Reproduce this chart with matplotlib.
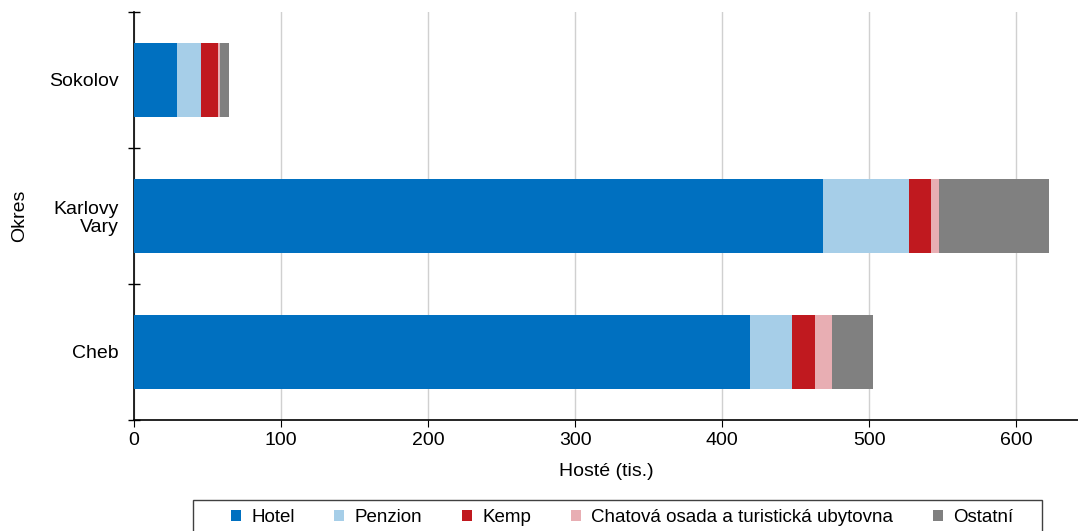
import matplotlib.pyplot as plt
import numpy as np
from matplotlib.patches import Patch, Rectangle

plt.rcParams['font.family'] = ['Liberation Sans', 'DejaVu Sans']

# data (tis. hostu)
okresy = ["Cheb", "Karlovy\nVary", "Sokolov"]
kategorie = ["Hotel", "Penzion", "Kemp", "Chatová osada a turistická ubytovna", "Ostatní"]
hotel = [419.0, 468.9, 29.3]
penzion = [28.8, 58.5, 16.3]
kemp = [15.0, 14.8, 11.5]
chatova = [11.8, 5.6, 1.4]
ostatni = [28.3, 74.2, 6.1]
barvy = ["#0070C0", "#A6CEE8", "#C0191F", "#E8AEB3", "#808080"]

fs = 14
W, H = 1078, 531

fig = plt.figure(figsize=(W / 100, H / 100), dpi=100)
ax = fig.add_axes([134 / W, 1 - 420 / H, 1 - 134 / W, 408 / H])

y = np.arange(len(okresy))
left = np.zeros(len(okresy))
for vals, c in zip([hotel, penzion, kemp, chatova, ostatni], barvy):
    ax.barh(y, vals, left=left, height=0.55, color=c, zorder=3)
    left += np.array(vals)

ax.set_xlim(0, 642)
ax.set_ylim(-0.5, 2.5)
ax.set_xticks(range(0, 700, 100))
ax.set_yticks(y)
ax.set_yticklabels(okresy, fontsize=fs, linespacing=1.05)
ax.set_yticks([-0.5, 0.5, 1.5, 2.5], minor=True)
ax.tick_params(axis='y', which='major', length=0, pad=11)
ax.tick_params(axis='y', which='minor', length=8, direction='inout', width=1)
ax.tick_params(axis='x', labelsize=fs, length=5, direction='out')
ax.grid(axis='x', color='#d0d0d0', linewidth=1, zorder=0)
for s in ['top', 'right']:
    ax.spines[s].set_visible(False)
ax.spines['left'].set_linewidth(1.2)
ax.spines['bottom'].set_linewidth(1.2)
ax.set_xlabel("Hosté (tis.)", fontsize=fs, labelpad=10)
ax.set_ylabel("Okres", fontsize=fs, labelpad=15)

handles = [Patch(facecolor=c, edgecolor='none', label=k) for c, k in zip(barvy, kategorie)]
leg = fig.legend(handles=handles, loc='upper center', bbox_to_anchor=(622 / W, 1 - 500 / H),
                 ncol=5, frameon=False, fontsize=13.5,
                 handlelength=0.55, handleheight=0.55, handletextpad=0.55, columnspacing=2.1,
                 borderpad=0.5, borderaxespad=0)

# legend frame drawn by hand (wider side padding than the legend box gives)
fig.patches.append(Rectangle((193 / W, -0.02), (1042 - 193) / W, 0.02 + (531 - 500) / H,
                             transform=fig.transFigure, fill=False, edgecolor='#404040',
                             linewidth=1.0))

fig.savefig("out.png", dpi=100)
